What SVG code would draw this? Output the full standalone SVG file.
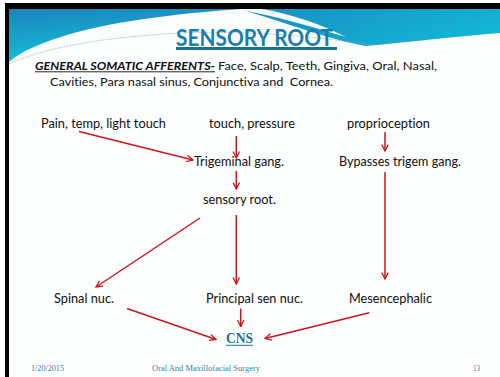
<svg xmlns="http://www.w3.org/2000/svg" width="500" height="377" viewBox="0 0 500 377">
  <style>
    text { font-variant-ligatures: none; white-space: pre; }
    .t { font-family: Lato, "Liberation Sans", sans-serif; fill: #111; }
    .row { font-size: 12.5px; }
    .sub { font-size: 11px; }
    .foot { font-family: "Liberation Serif", serif; font-size: 7.5px; fill: #3d7fa8; }
    .edge { fill: none; stroke: #c8161d; stroke-width: 1.5; marker-end: url(#arrow); }
  </style>
  <defs>
    <linearGradient id="bandL" x1="0" y1="0" x2="0.3" y2="1">
      <stop offset="0" stop-color="#1a84bd"/>
      <stop offset="1" stop-color="#15c2d9"/>
    </linearGradient>
    <linearGradient id="bandR" x1="0" y1="0" x2="1" y2="0.4">
      <stop offset="0" stop-color="#1a8cc2"/>
      <stop offset="1" stop-color="#12b4d4"/>
    </linearGradient>
    <marker id="arrow" viewBox="0 0 10 10" refX="9" refY="5" markerWidth="8" markerHeight="8" markerUnits="userSpaceOnUse" orient="auto">
      <path d="M1,1 L9,5 L1,9" fill="none" stroke="#c8161d" stroke-width="1.6"/>
    </marker>
  </defs>

  <!-- slide background and frame -->
  <rect x="0" y="0" width="500" height="377" fill="#ffffff"/>
  <rect x="9" y="9" width="491" height="368" fill="#fcfdfd"/>

  <!-- header swoosh -->
  <g id="header">
    <path d="M9,9 L245,9 C190,12 120,20 70,34 C40,43 20,52 9,62 Z" fill="url(#bandL)"/>
    <path d="M240,9 H500 V33 C450,37 410,42 366,46 C330,40 290,24 240,9 Z" fill="url(#bandR)"/>
    <path d="M236,9 H262 C292,14 320,24 346,37 C306,25 276,16 236,9 Z" fill="#f4fbfd"/>
    <path d="M9,64 C40,50 90,38 180,33 C260,30 320,38 375,45" fill="none" stroke="#9aa5ab" stroke-width="0.8" stroke-dasharray="2 1" opacity="0.8"/>
    <path d="M380,44 C420,36 460,24 496,10" fill="none" stroke="#5a8fa8" stroke-width="0.8" stroke-dasharray="2 1" opacity="0.7"/>
  </g>
  <rect x="5" y="3" width="495" height="6" fill="#000"/>
  <rect x="5" y="3" width="4" height="374" fill="#000"/>

  <!-- title -->
  <g id="title">
    <text x="176" y="46" font-family="Lato, 'Liberation Sans', sans-serif" font-weight="bold" font-size="22.5" fill="#1b7eab" textLength="157" lengthAdjust="spacingAndGlyphs">SENSORY ROOT</text>
    <rect x="176" y="47" width="161" height="3" fill="#1a6f98"/>
  </g>

  <!-- intro lines -->
  <g id="intro">
    <text class="t sub" x="35" y="70" font-weight="bold" font-style="italic" textLength="180" lengthAdjust="spacingAndGlyphs">GENERAL SOMATIC AFFERENTS-</text>
    <line x1="35" y1="71.8" x2="215" y2="71.8" stroke="#111" stroke-width="0.9"/>
    <text class="t sub" x="218" y="70" textLength="219" lengthAdjust="spacingAndGlyphs">Face, Scalp, Teeth, Gingiva, Oral, Nasal,</text>
    <text class="t sub" x="50" y="86" textLength="283" lengthAdjust="spacingAndGlyphs">Cavities, Para nasal sinus, Conjunctiva and  Cornea.</text>
  </g>

  <!-- connectors -->
  <g id="connectors">
    <line class="edge" x1="79" y1="131.5" x2="193" y2="160"/>
    <line class="edge" x1="236.3" y1="136" x2="236.3" y2="158"/>
    <line class="edge" x1="236.3" y1="171" x2="236.3" y2="189"/>
    <line class="edge" x1="385" y1="132" x2="385" y2="151"/>
    <line class="edge" x1="385" y1="172" x2="385" y2="279"/>
    <line class="edge" x1="236.3" y1="215" x2="236.3" y2="284"/>
    <line class="edge" x1="200" y1="218" x2="96" y2="287"/>
    <line class="edge" x1="127" y1="308.5" x2="216" y2="339.5"/>
    <line class="edge" x1="240.7" y1="308.5" x2="240.7" y2="326.5"/>
    <line class="edge" x1="369.3" y1="312.7" x2="265" y2="338.5"/>
  </g>

  <!-- nodes -->
  <g id="pain"><text class="t row" x="41" y="127.5" textLength="125" lengthAdjust="spacingAndGlyphs">Pain, temp, light touch</text></g>
  <g id="touch"><text class="t row" x="209" y="127.5" textLength="86" lengthAdjust="spacingAndGlyphs">touch, pressure</text></g>
  <g id="proprioception"><text class="t row" x="347" y="127.5" textLength="83" lengthAdjust="spacingAndGlyphs">proprioception</text></g>
  <g id="trigeminal"><text class="t row" x="194" y="165.5" textLength="90" lengthAdjust="spacingAndGlyphs">Trigeminal gang.</text></g>
  <g id="bypasses"><text class="t row" x="339" y="165.5" textLength="122" lengthAdjust="spacingAndGlyphs">Bypasses trigem gang.</text></g>
  <g id="sensory-root"><text class="t row" x="203" y="204" textLength="73" lengthAdjust="spacingAndGlyphs">sensory root.</text></g>
  <g id="spinal"><text class="t row" x="54" y="302.5" textLength="60" lengthAdjust="spacingAndGlyphs">Spinal nuc.</text></g>
  <g id="principal"><text class="t row" x="206" y="302.5" textLength="97" lengthAdjust="spacingAndGlyphs">Principal sen nuc.</text></g>
  <g id="mesencephalic"><text class="t row" x="349" y="302.5" textLength="83" lengthAdjust="spacingAndGlyphs">Mesencephalic</text></g>
  <g id="cns">
    <text x="226" y="343" font-family="'Liberation Serif', serif" font-weight="bold" font-size="14" fill="#1f6f96" textLength="27" lengthAdjust="spacingAndGlyphs">CNS</text>
    <line x1="226" y1="345.3" x2="253" y2="345.3" stroke="#1f6f96" stroke-width="1"/>
  </g>

  <!-- footer -->
  <g id="footer">
    <text class="foot" x="31" y="370.5" textLength="33" lengthAdjust="spacingAndGlyphs">1/20/2015</text>
    <text class="foot" x="152" y="370.5" textLength="108" lengthAdjust="spacingAndGlyphs">Oral And Maxillofacial Surgery</text>
    <text class="foot" x="473" y="370.5" textLength="7" lengthAdjust="spacingAndGlyphs">13</text>
  </g>
</svg>
